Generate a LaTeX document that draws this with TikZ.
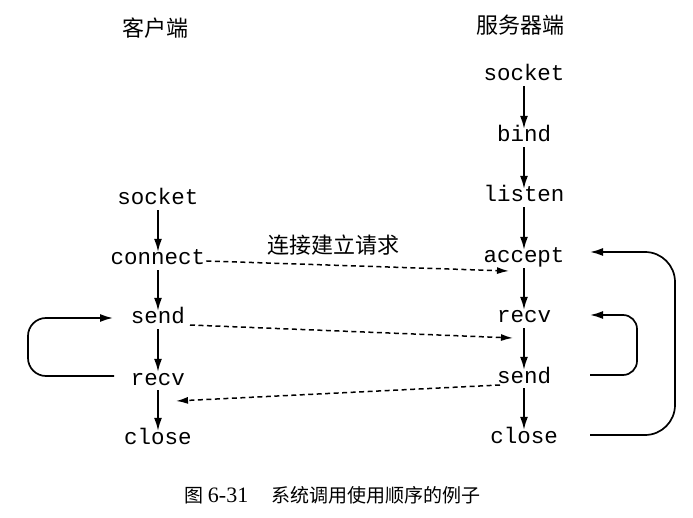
\documentclass[tikz,border=0pt]{standalone}
\usepackage{fontspec}
\setmonofont{Liberation Mono}
\setmainfont{Liberation Serif}
\newfontfamily\cjk{Noto Sans CJK SC}
\usetikzlibrary{arrows.meta}
\tikzset{
  call/.style={font=\ttfamily\fontsize{22.5}{22.5}\selectfont, inner sep=1pt, text height=12pt, text depth=4pt},
  title/.style={font=\cjk\fontsize{22}{22}\selectfont, inner sep=1pt},
  flow/.style={line width=1.7pt, -{Latex[length=13pt,width=8pt]}},
  msg/.style={line width=1.5pt, dash pattern=on 5pt off 3.5pt, -{Latex[length=12pt,width=7pt]}},
  loop/.style={line width=1.7pt, rounded corners=18pt, -{Latex[length=13pt,width=8pt]}}
}
\begin{document}
\begin{tikzpicture}[x=1pt,y=-1pt]
\useasboundingbox (0,0) rectangle (693,518);
% titles
\node[title] (tc) at (155,28) {客户端};
\node[title] (ts) at (520,25) {服务器端};
% client
\node[call] (csocket) at (158,201) {socket};
\node[call] (cconnect) at (158,261) {connect};
\node[call] (csend) at (158,320) {send};
\node[call] (crecv) at (158,381) {recv};
\node[call] (cclose) at (158,440) {close};
% server
\node[call] (ssocket) at (524,77) {socket};
\node[call] (sbind) at (524,138) {bind};
\node[call] (slisten) at (524,198) {listen};
\node[call] (saccept) at (524,259) {accept};
\node[call] (srecv) at (524,319) {recv};
\node[call] (ssend) at (524,379) {send};
\node[call] (sclose) at (524,439) {close};
% vertical flows
\foreach \a/\b in {csocket/cconnect,cconnect/csend,csend/crecv,crecv/cclose,
                   ssocket/sbind,sbind/slisten,slisten/saccept,saccept/srecv,srecv/ssend,ssend/sclose}
  \draw[flow] (\a) -- (\b);
% messages
\coordinate (m1e) at (509,271);
\coordinate (m2s) at (190,325);
\coordinate (m2e) at (513,338);
\coordinate (m3s) at (500,385);
\coordinate (m3e) at (176,401);
\draw[msg] (cconnect.east) -- (m1e);
\draw[msg] (m2s) -- (m2e);
\draw[msg] (m3s) -- (m3e);
\node[title] (lab) at (333,245) {连接建立请求};
% loops
\coordinate (cl1) at (114,376);
\coordinate (cl2) at (113,318);
\draw[loop] (cl1) -- (28,376) -- (28,318) -- (cl2);
\coordinate (sl1) at (590,375);
\coordinate (sl2) at (590,315);
\draw[loop, rounded corners=14pt] (sl1) -- (637,375) -- (637,315) -- (sl2);
\coordinate (bl1) at (590,435);
\coordinate (bl2) at (590,252);
\draw[loop, rounded corners=30pt] (bl1) -- (675,435) -- (675,252) -- (bl2);
% caption
\node[inner sep=0pt, anchor=base west, font=\fontsize{19}{19}\selectfont] (cap) at (184,502) {{\cjk 图}\ {\fontsize{22}{22}\selectfont 6-31}\hspace{1.2em}{\cjk 系统调用使用顺序的例子}};
\end{tikzpicture}
\end{document}
